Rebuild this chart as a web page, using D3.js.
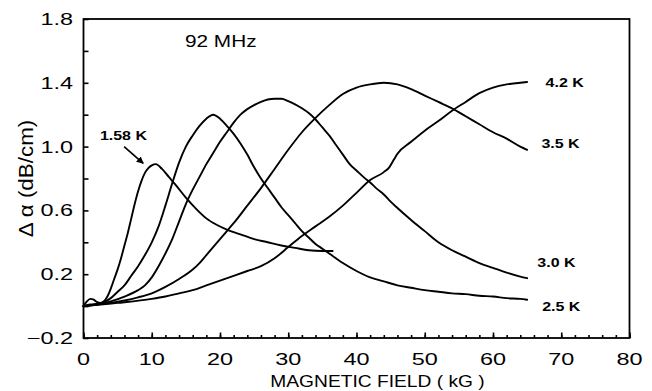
<!DOCTYPE html>
<html>
<head>
<meta charset="utf-8">
<script src="https://cdn.jsdelivr.net/npm/d3@7"></script>
<style>
  html, body { margin: 0; padding: 0; background: #fff; }
  svg { display: block; }
  text { font-family: "Liberation Sans", Arial, sans-serif; fill: #000; }
</style>
</head>
<body>
<svg id="chart" width="652" height="391"></svg>
<script>
// Ultrasonic attenuation change vs magnetic field, 92 MHz, at five temperatures.

// field (kG) and attenuation (dB/cm) for each temperature
const field158 = [0, 0.5, 1, 1.5, 2, 2.5, 3, 3.5, 4, 4.5, 5, 5.5, 6, 6.5, 7, 7.5, 8, 8.5, 9, 9.5, 10, 10.6, 11.5, 12.5, 13.5, 15, 16.5, 18, 19.5, 21, 23, 25, 27, 29, 31, 33, 35, 36.5];
const alpha158 = [0, 0.03, 0.045, 0.04, 0.025, 0.02, 0.03, 0.06, 0.11, 0.17, 0.23, 0.30, 0.38, 0.46, 0.55, 0.64, 0.72, 0.785, 0.835, 0.865, 0.882, 0.89, 0.86, 0.81, 0.76, 0.68, 0.61, 0.55, 0.51, 0.48, 0.45, 0.42, 0.40, 0.38, 0.365, 0.35, 0.345, 0.345];

const field25 = [0, 1, 2, 3, 4, 5, 6, 7, 8, 9, 10, 11, 12, 13, 14, 15, 16, 17, 18, 19, 20, 21, 22, 23, 24, 25, 26, 27, 28, 29, 30, 31, 32, 33, 34, 35, 36, 38, 40, 42, 44, 46, 48, 50, 52, 54, 56, 58, 60, 62, 64, 65];
const alpha25 = [0, 0.01, 0.015, 0.025, 0.05, 0.09, 0.13, 0.19, 0.25, 0.32, 0.40, 0.50, 0.63, 0.77, 0.90, 1.00, 1.07, 1.13, 1.175, 1.20, 1.175, 1.13, 1.08, 1.02, 0.95, 0.87, 0.80, 0.74, 0.68, 0.62, 0.57, 0.52, 0.47, 0.43, 0.39, 0.36, 0.33, 0.27, 0.22, 0.18, 0.155, 0.13, 0.115, 0.10, 0.09, 0.08, 0.075, 0.065, 0.06, 0.05, 0.045, 0.04];

const field30 = [0, 2, 4, 6, 8, 9, 10, 11, 12, 13, 14, 15, 16, 17, 18, 19, 20, 21, 22, 23, 24, 25, 26, 27, 28, 29, 30, 31, 32, 33, 34, 35, 36, 37, 38, 39, 40, 41, 42, 43, 44, 45, 46, 48, 50, 52, 54, 56, 58, 60, 62, 64, 65];
const alpha30 = [0, 0.01, 0.03, 0.06, 0.10, 0.13, 0.18, 0.25, 0.33, 0.42, 0.53, 0.64, 0.73, 0.81, 0.89, 0.96, 1.03, 1.09, 1.15, 1.20, 1.235, 1.26, 1.28, 1.295, 1.30, 1.30, 1.285, 1.265, 1.24, 1.21, 1.17, 1.12, 1.07, 1.01, 0.95, 0.89, 0.85, 0.81, 0.775, 0.735, 0.70, 0.655, 0.615, 0.54, 0.47, 0.40, 0.35, 0.31, 0.27, 0.24, 0.21, 0.185, 0.175];

const field35 = [0, 2, 4, 6, 8, 10, 12, 14, 16, 17, 18, 20, 21.2, 22, 24, 26, 28, 30, 32, 34, 36, 38, 40, 42, 44, 46, 48, 50, 52, 54, 56, 58, 60, 62, 64, 65];
const alpha35 = [0, 0.01, 0.02, 0.035, 0.055, 0.08, 0.12, 0.17, 0.23, 0.27, 0.32, 0.42, 0.48, 0.52, 0.63, 0.74, 0.86, 0.98, 1.09, 1.18, 1.26, 1.33, 1.37, 1.39, 1.40, 1.39, 1.36, 1.32, 1.28, 1.24, 1.19, 1.14, 1.09, 1.05, 1.00, 0.98];

const field42 = [0, 5, 10, 12, 14, 16, 18, 20, 22, 24, 26, 28, 30, 32, 34, 36, 38, 40, 42, 44, 44.8, 45.5, 46, 48, 50, 52, 54, 56, 58, 60, 62, 64, 65];
const alpha42 = [0, 0.02, 0.045, 0.06, 0.08, 0.10, 0.13, 0.16, 0.19, 0.22, 0.25, 0.30, 0.37, 0.44, 0.50, 0.56, 0.63, 0.71, 0.79, 0.84, 0.87, 0.92, 0.955, 1.03, 1.10, 1.16, 1.225, 1.28, 1.335, 1.37, 1.39, 1.40, 1.405];

const temperatureLabels = ["1.58 K", "2.5 K", "3.0 K", "3.5 K", "4.2 K"];

// axis ticks
const xTickValues = [0, 10, 20, 30, 40, 50, 60, 70, 80];
const xTickLabels = ["0", "10", "20", "30", "40", "50", "60", "70", "80"];
const yTickValues = [-0.2, 0.2, 0.6, 1.0, 1.4, 1.8];
const yTickLabels = ["\u22120.2", "0.2", "0.6", "1.0", "1.4", "1.8"];

const frequencyLabel = "92 MHz";
const xTitle = "MAGNETIC FIELD ( kG )";
const yTitle = "\u0394 \u03b1 (dB/cm)";

// ---- layout ----
const plot = { left: 83.5, right: 629.5, top: 19, bottom: 338 };

const svg = d3.select("#chart");

const x = d3.scaleLinear().domain([0, 80]).range([plot.left, plot.right]);
const y = d3.scaleLinear().domain([-0.2, 1.8]).range([plot.bottom, plot.top]);

// text drawn in a wide face: horizontal stretch around its anchor
function wideText(sel, px, py, str, o) {
  return sel.append("text")
    .attr("transform", `translate(${px},${py})` + (o.rotate ? ` rotate(${o.rotate})` : "") + ` scale(${o.sx},1)`)
    .attr("text-anchor", o.anchor || "start")
    .style("font-size", o.size + "px")
    .style("font-weight", o.weight || "normal")
    .text(str);
}

// ticks point into the frame
const xMinor = d3.axisBottom(x).tickValues(d3.range(0, 81, 2)).tickSize(-3).tickFormat("");
const xMajor = d3.axisBottom(x).tickValues(xTickValues).tickSize(-5.5).tickFormat("");
const yAxis = d3.axisLeft(y).tickValues(d3.range(-0.2, 1.81, 0.2).map(v => +v.toFixed(2))).tickSize(-5).tickFormat("");

function styleAxis(g) {
  g.select(".domain").remove();
  g.selectAll(".tick line").attr("stroke", "#000").attr("stroke-width", 1.6);
}

svg.append("g").attr("transform", `translate(0,${plot.bottom})`).call(xMinor).call(styleAxis);
svg.append("g").attr("transform", `translate(0,${plot.bottom})`).call(xMajor).call(styleAxis);
svg.append("g").attr("transform", `translate(${plot.left},0)`).call(yAxis).call(styleAxis);

// frame
svg.append("rect")
  .attr("x", plot.left).attr("y", plot.top)
  .attr("width", plot.right - plot.left).attr("height", plot.bottom - plot.top)
  .attr("fill", "none").attr("stroke", "#000").attr("stroke-width", 1.8);

// tick labels
const tickFont = { size: 16.5, sx: 1.42 };
xTickValues.forEach((v, i) => {
  wideText(svg, x(v), 365, xTickLabels[i], { ...tickFont, anchor: "middle" });
});
yTickValues.forEach((v, i) => {
  wideText(svg, 73, y(v) + 6, yTickLabels[i], { ...tickFont, anchor: "end" });
});

// axis titles
wideText(svg, 377.5, 387, xTitle, { size: 17, sx: 1.13, anchor: "middle" });
wideText(svg, 33, 178.5, yTitle, { size: 20, sx: 1.12, anchor: "middle", rotate: -90 });

// frequency
wideText(svg, 185, 47, frequencyLabel, { size: 16.5, sx: 1.26 });

// curves
const series = [
  { f: field158, a: alpha158 },
  { f: field25, a: alpha25 },
  { f: field30, a: alpha30 },
  { f: field35, a: alpha35 },
  { f: field42, a: alpha42 }
];

const line = d3.line()
  .x(d => x(d[0]))
  .y(d => y(d[1]))
  .curve(d3.curveMonotoneX);

svg.append("g").selectAll("path")
  .data(series)
  .join("path")
  .attr("d", s => line(s.f.map((f, i) => [f, s.a[i]])))
  .attr("fill", "none")
  .attr("stroke", "#000")
  .attr("stroke-width", 1.9)
  .attr("stroke-linejoin", "round")
  .attr("stroke-linecap", "round");

// temperature labels (start x in kG, vertical centre in dB/cm)
const labelAnchors = [
  { x: 2.4, y: 1.07 },   // 1.58 K
  { x: 67.2, y: 0.00 },  // 2.5 K
  { x: 66.5, y: 0.275 }, // 3.0 K
  { x: 67.1, y: 1.02 },  // 3.5 K
  { x: 67.7, y: 1.40 }   // 4.2 K
];
temperatureLabels.forEach((t, i) => {
  const p = labelAnchors[i];
  wideText(svg, x(p.x), y(p.y) + 4.5, t, { size: 12.5, sx: 1.28, weight: "bold" });
});

// arrow pointing at the 1.58 K curve
const defs = svg.append("defs");
defs.append("marker")
  .attr("id", "head")
  .attr("viewBox", "0 0 10 10")
  .attr("refX", 9).attr("refY", 5)
  .attr("markerWidth", 4.2).attr("markerHeight", 4.2)
  .attr("markerUnits", "strokeWidth")
  .attr("orient", "auto")
  .append("path").attr("d", "M0,0 L10,5 L0,10 Z").attr("fill", "#000");

svg.append("line")
  .attr("x1", x(5.95)).attr("y1", y(1.0))
  .attr("x2", x(8.75)).attr("y2", y(0.895))
  .attr("stroke", "#000").attr("stroke-width", 1.7)
  .attr("marker-end", "url(#head)");
</script>
</body>
</html>
